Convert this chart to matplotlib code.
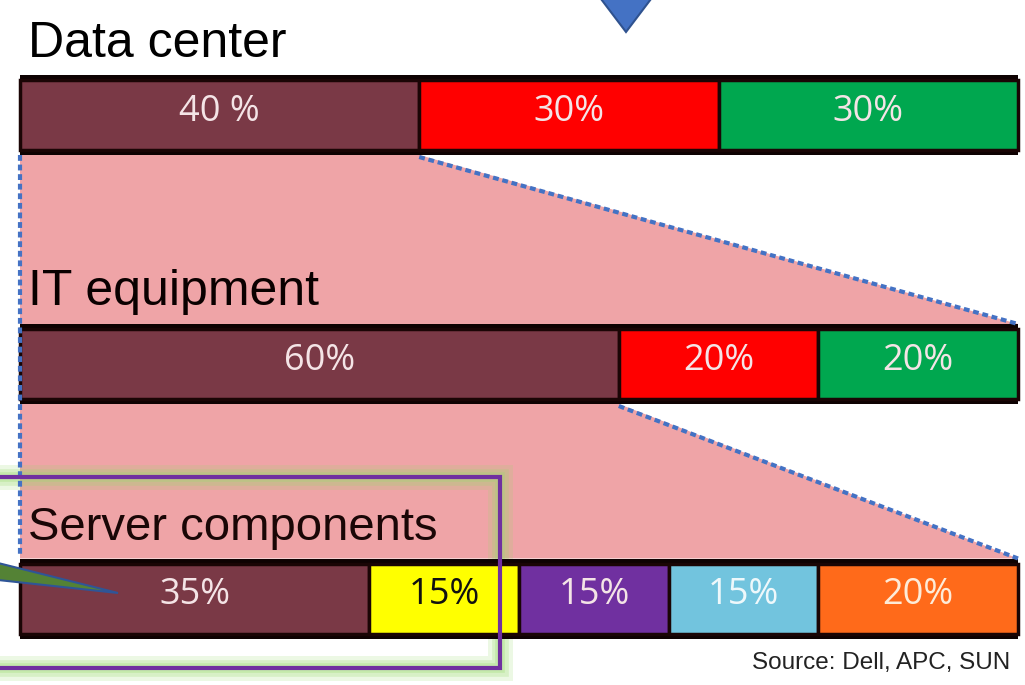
import matplotlib
matplotlib.use("Agg")
import matplotlib.pyplot as plt
from matplotlib.patches import Polygon, Rectangle
import numpy as np

# ---- data ----
groups = ["Data center", "IT equipment", "Server components"]
dc_values = [40, 30, 30]
dc_labels = ["40 %", "30%", "30%"]
it_values = [60, 20, 20]
it_labels = ["60%", "20%", "20%"]
server_values = [35, 15, 15, 15, 20]
server_labels = ["35%", "15%", "15%", "15%", "20%"]
source_text = "Source: Dell, APC, SUN"

dc_colors = ["#7A3946", "#FF0000", "#00A74F"]
it_colors = ["#7A3946", "#FF0000", "#00A74F"]
server_colors = ["#7A3946", "#FFFF00", "#7030A0", "#72C4DE", "#FF6A1A"]
server_text_colors = ["#F4E4E6", "#111111", "#F4E4E6", "#EEF8FB", "#FDEBD8"]

# ---- figure / axes (x in percent, y in pixels) ----
W, H = 1025, 685
fig = plt.figure(figsize=(W / 100, H / 100), dpi=100)
ax = fig.add_axes([0, 0, 1, 1])
ax.axis("off")
X0, S = 20.0, 9.98   # 0% at 20px, 100% at ~1018px
ax.set_xlim(-X0 / S, (W - X0) / S)
ax.set_ylim(H, 0)

def px(x):
    return (x - X0) / S

bar_centers = [115, 364, 598.5]
outer_h = 80
inner_h = 70

rows = [
    (dc_values, dc_labels, dc_colors, ["#F4E4E6"] * 3),
    (it_values, it_labels, it_colors, ["#F4E4E6"] * 3),
    (server_values, server_labels, server_colors, server_text_colors),
]

dc_bottom = bar_centers[0] + outer_h / 2
it_top = bar_centers[1] - outer_h / 2
it_bottom = bar_centers[1] + outer_h / 2
srv_top = bar_centers[2] - outer_h / 2

# pink zoom region
dc_cut = dc_values[0]
it_cut = it_values[0]
poly = Polygon([(0, dc_bottom), (dc_cut, dc_bottom), (100, it_top), (100, it_bottom),
                (it_cut, it_bottom), (100, srv_top), (0, srv_top)],
               closed=True, facecolor="#EFA4A7", edgecolor="none", zorder=1)
ax.add_patch(poly)

# highlight box glow (under the bars)
rx0, rx1, ry0, ry1 = px(-3), px(500), 477, 668
for lw, a in [(18, 0.18), (12, 0.25), (7, 0.3)]:
    ax.add_patch(Rectangle((rx0, ry0), rx1 - rx0, ry1 - ry0, fill=False,
                           edgecolor="#9ADB6E", lw=lw, alpha=a, zorder=2))

# bars
for (vals, labs, cols, tcols), yc in zip(rows, bar_centers):
    total = sum(vals)
    ax.barh(yc, total, left=0, height=outer_h, color="#0E0202", zorder=3)
    lefts = np.concatenate([[0], np.cumsum(vals)[:-1]])
    ax.barh(yc, vals, left=lefts, height=inner_h, color=cols,
            edgecolor="#1A0505", linewidth=2.5, zorder=3.5)
    for l, v, lab, tc in zip(lefts, vals, labs, tcols):
        ax.text(l + v / 2, yc - 3, lab, ha="center", va="center", fontsize=26,
                color=tc, family="Open Sans", zorder=5)

# dotted connector lines
dot = dict(color="#4472C4", lw=3, dashes=(1.4, 0.9), zorder=4.5)
ax.plot([dc_cut, 100], [dc_bottom + 2, it_top], **dot)
ax.plot([it_cut, 100], [it_bottom + 2, srv_top], **dot)
ax.plot([0, 0], [dc_bottom, srv_top - 4], **dot)

# titles
title_y = [57, 305, 540]
title_sizes = [36, 36, 34]
title_colors = ["#000000", "#0A0000", "#1A0606"]
for g, ty, fs, c in zip(groups, title_y, title_sizes, title_colors):
    ax.text(px(28), ty, g, ha="left", va="baseline", fontsize=fs, color=c,
            family="Liberation Sans", zorder=5)

# triangle at top
tri = Polygon([(px(598), -5), (px(654), -5), (px(626), 32)], closed=True,
              facecolor="#4472C4", edgecolor="#2F528F", lw=1.5, zorder=5)
ax.add_patch(tri)

# highlight box outline
ax.add_patch(Rectangle((rx0, ry0), rx1 - rx0, ry1 - ry0, fill=False,
                       edgecolor="#7030A0", lw=3, zorder=6))

# callout wedge
wedge = Polygon([(px(-2), 563), (px(-2), 580), (px(118), 593)], closed=True,
                facecolor="#548235", edgecolor="#2F5597", lw=1.5, zorder=6)
ax.add_patch(wedge)

# source
ax.text(px(1010), 663, source_text, ha="right", va="center", fontsize=17.5,
        color="#222222", family="Liberation Sans", zorder=5)

fig.savefig("out.png", dpi=100)
